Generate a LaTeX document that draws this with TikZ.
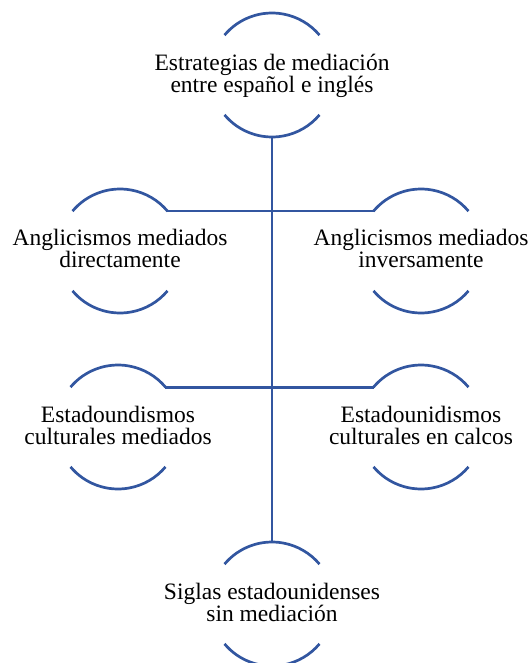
\documentclass[tikz,border=0pt]{standalone}
\usepackage{fontspec}
\setmainfont{Liberation Serif}
\definecolor{lineblue}{RGB}{50,86,160}
\tikzset{
  ringnode/.style={circle, minimum size=124pt, inner sep=0pt, outer sep=0pt},
  ringtext/.style={align=center, inner sep=0pt, outer sep=0pt, anchor=base, text=black,
    font=\fontsize{23.5pt}{22pt}\selectfont},
  link/.style={draw=lineblue, line width=2.7pt},
}
\begin{document}
\begin{tikzpicture}[x=1pt,y=1pt]
\useasboundingbox (0,0) rectangle (532,-663);
% ring nodes (circle radius 62)
\node[ringnode] (top) at (272,-75) {};
\node[ringnode] (l1) at (120,-251) {};
\node[ringnode] (r1) at (421,-251) {};
\node[ringnode] (l2) at (118,-427) {};
\node[ringnode] (r2) at (421,-427) {};
\node[ringnode] (bot) at (272,-604) {};
% partial circles
\foreach \n in {top,l1,r1,l2,r2,bot}{
  \draw[link] (\n.140) arc[start angle=140, end angle=40, radius=62pt];
  \draw[link] (\n.220) arc[start angle=220, end angle=320, radius=62pt];
}
% texts (base anchor = baseline of the last line)
\node[ringtext] (ttop) at (272,-93) {Estrategias de mediación\\entre español e inglés};
\node[ringtext] (tl1) at (120,-267) {Anglicismos mediados\\directamente};
\node[ringtext] (tr1) at (421,-267) {Anglicismos mediados\\inversamente};
\node[ringtext] (tl2) at (118,-444) {Estadoundismos\\culturales mediados};
\node[ringtext] (tr2) at (421,-444) {Estadounidismos\\culturales en calcos};
\node[ringtext] (tbot) at (272,-621) {Siglas estadounidenses\\sin mediación};
% connectors
\draw[link] (top.270) -- (bot.90);
\draw[link] (l1.40) -- (r1.140);
\draw[link] (l2.40) -- (r2.140);
\end{tikzpicture}
\end{document}
